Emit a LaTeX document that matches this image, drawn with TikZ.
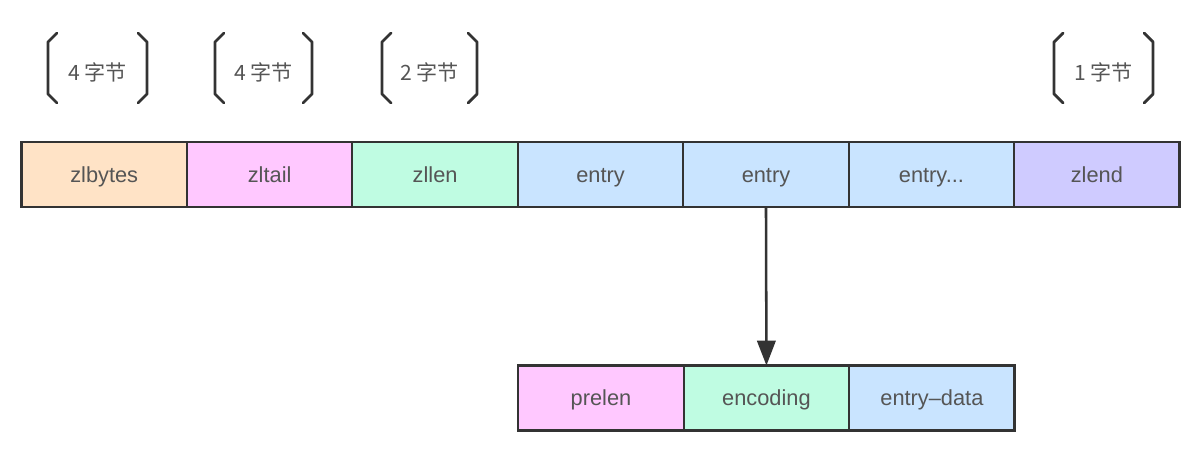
\documentclass[tikz,border=0pt]{standalone}
\usepackage{fontspec}
\setmainfont{Liberation Sans}
\newfontfamily\cjk{Noto Sans CJK SC}
\usetikzlibrary{arrows.meta,positioning}

\definecolor{linegray}{HTML}{333333}
\definecolor{textgray}{HTML}{555555}
\definecolor{peach}{HTML}{FFE3C6}
\definecolor{pinkcell}{HTML}{FFC8FF}
\definecolor{mintcell}{HTML}{BFFCE2}
\definecolor{bluecell}{HTML}{C9E4FF}
\definecolor{violetcell}{HTML}{CFCBFF}

\begin{document}
\begin{tikzpicture}[x=0.025cm,y=-0.025cm,
    cell/.style={draw=linegray, line width=1.6pt, minimum width=4.135cm,
      minimum height=1.625cm, inner sep=0pt, outer sep=0pt, text=textgray,
      text height=2.5ex, text depth=0.4ex,
      font=\fontsize{15.5}{18}\selectfont},
    bracketline/.style={draw=linegray, line width=2pt, line cap=round, line join=round},
    sizelabel/.style={text=textgray, font=\cjk\fontsize{15}{17}\selectfont}]
      \useasboundingbox (0,0) rectangle (1194,454);

      % Top row: ziplist layout
      \node[cell, fill=peach] (zlbytes) at (104.2,174.5) {zlbytes};
      \node[cell, fill=pinkcell, right=0pt of zlbytes] (zltail) {zltail};
      \node[cell, fill=mintcell, right=0pt of zltail] (zllen) {zllen};
      \node[cell, fill=bluecell, right=0pt of zllen] (entryA) {entry};
      \node[cell, fill=bluecell, right=0pt of entryA] (entryB) {entry};
      \node[cell, fill=bluecell, right=0pt of entryB] (entryC) {entry...};
      \node[cell, fill=violetcell, right=0pt of entryC] (zlend) {zlend};

      % Bottom row: one entry
      \node[cell, fill=pinkcell] (prelen) at (601,398) {prelen};
      \node[cell, fill=mintcell, right=0pt of prelen] (encoding) {encoding};
      \node[cell, fill=bluecell, right=0pt of encoding] (entrydata) {entry–data};

      \draw[draw=linegray, line width=1.8pt,
        -{Triangle[length=0.62cm, width=0.46cm]}] (entryB.south) -- (encoding.north);

      % Byte size brackets
      \foreach \bx/\bw/\lbl [count=\i] in {48/99/4, 215/97/4, 382/95/2, 1054/99/1} {
        \draw[bracketline] ({\bx+9},33) -- (\bx,42) -- (\bx,94) -- ({\bx+9},103);
        \draw[bracketline] ({\bx+\bw-9},33) -- ({\bx+\bw},42) -- ({\bx+\bw},94) -- ({\bx+\bw-9},103);
        \node[sizelabel] (size\i) at ({\bx+\bw/2},72) {\lbl\ 字节};
      }
    \end{tikzpicture}
\end{document}
